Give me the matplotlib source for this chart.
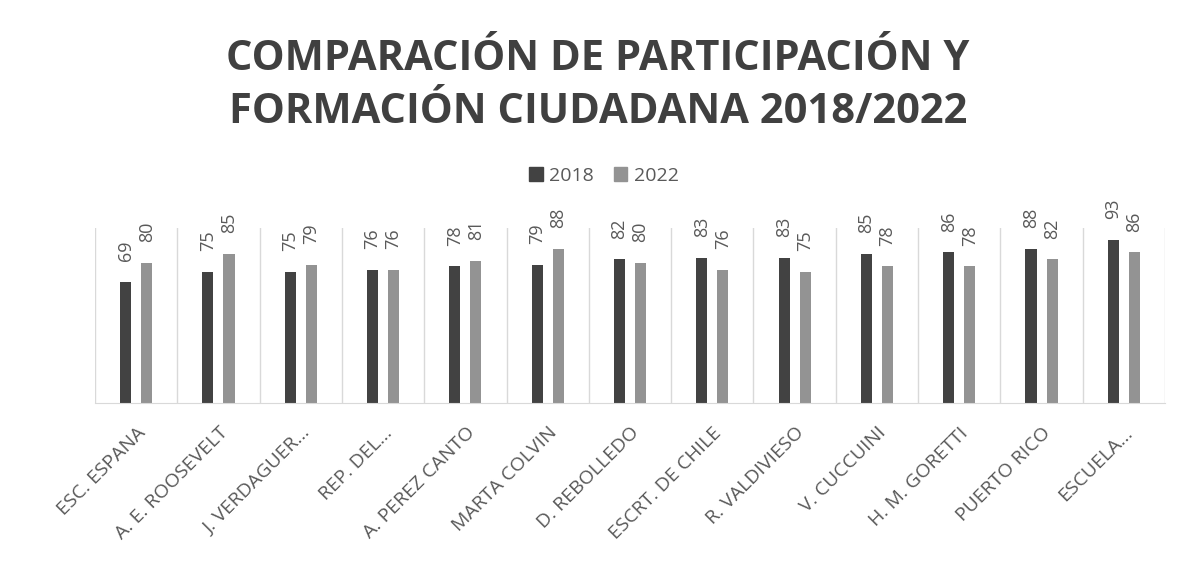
import numpy as np
import matplotlib
matplotlib.use("Agg")
from matplotlib import pyplot as plt
from matplotlib.patches import Patch

plt.rcParams['font.family'] = ['Open Sans', 'DejaVu Sans']

escuelas = ["ESC. ESPANA", "A. E. ROOSEVELT", "J. VERDAGUER\u2026", "REP. DEL\u2026",
            "A. PEREZ CANTO", "MARTA COLVIN", "D. REBOLLEDO", "ESCRT. DE CHILE",
            "R. VALDIVIESO", "V. CUCCUINI", "H. M. GORETTI", "PUERTO RICO",
            "ESCUELA\u2026"]
valores_2018 = [69, 75, 75, 76, 78, 79, 82, 83, 83, 85, 86, 88, 93]
valores_2022 = [80, 85, 79, 76, 81, 88, 80, 76, 75, 78, 78, 82, 86]
series = ["2018", "2022"]

color_2018 = "#424242"
color_2022 = "#939393"
texto = "#595959"
linea = "#d9d9d9"

W, H = 1182, 582
fig = plt.figure(figsize=(W / 100, H / 100), dpi=100)
ax = fig.add_axes([95 / W, 1 - 403 / H, (1165 - 95) / W, (403 - 228) / H])

x = np.arange(len(escuelas))
ancho = 0.134
desp = 0.128
b1 = ax.bar(x - desp, valores_2018, ancho, color=color_2018)
b2 = ax.bar(x + desp, valores_2022, ancho, color=color_2022)

for barras in (b1, b2):
    ax.bar_label(barras, padding=15, rotation=90, fontsize=13, color=texto)

ax.set_xlim(-0.5, len(escuelas) - 0.5)
ax.set_ylim(0, 100)
ax.set_yticks([])

# separadores entre categorias
for s in np.arange(-0.5, len(escuelas), 1.0):
    ax.axvline(s, color=linea, lw=1, zorder=0)

for lado in ["top", "left", "right"]:
    ax.spines[lado].set_visible(False)
ax.spines["bottom"].set_color(linea)

ax.set_xticks(x)
ax.set_xticklabels(escuelas, rotation=45, ha="right", va="top",
                   rotation_mode="anchor", fontsize=14, color=texto)
ax.tick_params(axis="x", length=0, pad=15)

fig.text(598 / W, 1 - 70 / H, "COMPARACIÓN DE PARTICIPACIÓN Y", ha="center",
         va="baseline", fontsize=30, fontweight="bold", color="#404040")
fig.text(598 / W, 1 - 123 / H, "FORMACIÓN CIUDADANA 2018/2022", ha="center",
         va="baseline", fontsize=30, fontweight="bold", color="#404040")

handles = [Patch(color=color_2018), Patch(color=color_2022)]
leg = fig.legend(handles, series, loc="center", ncol=2, frameon=False,
                 bbox_to_anchor=(604 / W, 1 - 176 / H), fontsize=14,
                 handlelength=0.7, handleheight=0.7, handletextpad=0.35,
                 columnspacing=1.0)
for t in leg.get_texts():
    t.set_color(texto)

fig.savefig("out.png", dpi=100)
